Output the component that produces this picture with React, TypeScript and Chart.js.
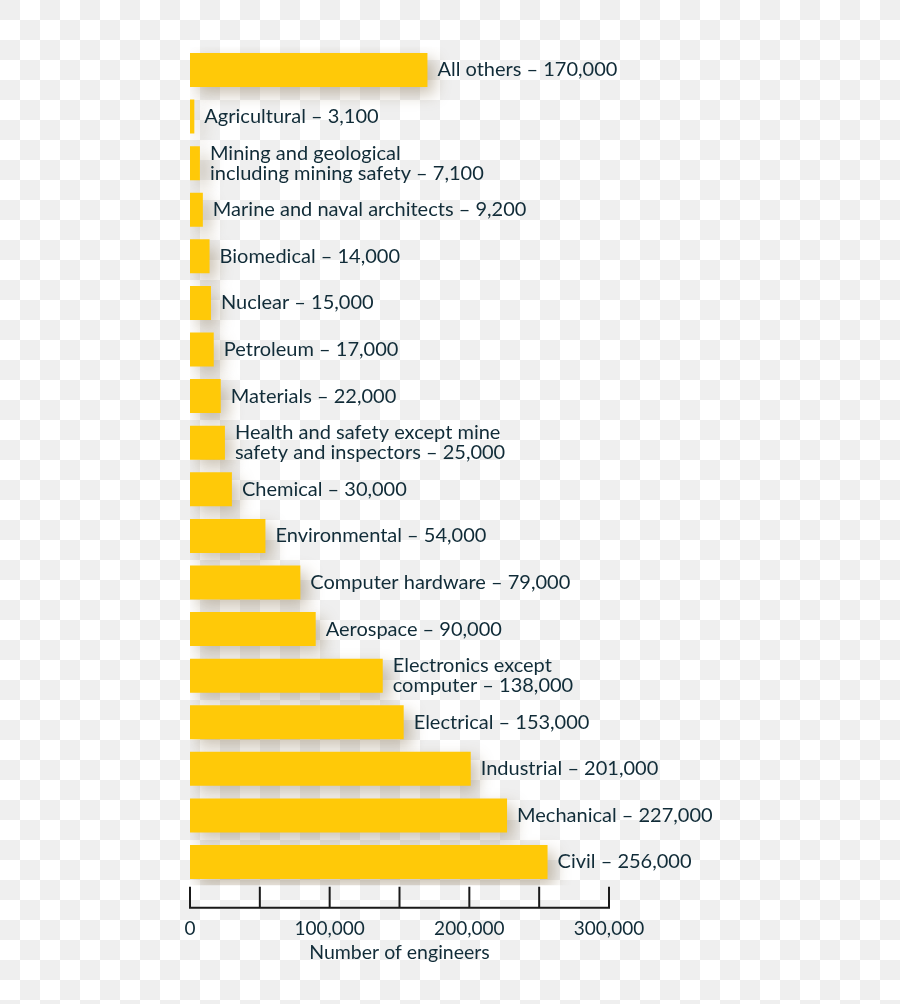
import React, { useEffect, useRef } from "react";
import { Chart, registerables } from "chart.js";

Chart.register(...registerables);

const categories: string[][] = [
  ["All others"],
  ["Agricultural"],
  ["Mining and geological", "including mining safety"],
  ["Marine and naval architects"],
  ["Biomedical"],
  ["Nuclear"],
  ["Petroleum"],
  ["Materials"],
  ["Health and safety except mine", "safety and inspectors"],
  ["Chemical"],
  ["Environmental"],
  ["Computer hardware"],
  ["Aerospace"],
  ["Electronics except", "computer"],
  ["Electrical"],
  ["Industrial"],
  ["Mechanical"],
  ["Civil"],
];

const engineers: number[] = [
  170000, 3100, 7100, 9200, 14000, 15000, 17000, 22000, 25000, 30000, 54000,
  79000, 90000, 138000, 153000, 201000, 227000, 256000,
];

const axisTickMarks: number[] = [0, 50000, 100000, 150000, 200000, 250000, 300000];
const axisLabelValues: number[] = [0, 100000, 200000, 300000];
const axisTitle = "Number of engineers";

const FONT = "Lato, 'Open Sans', sans-serif";
const TEXT = "#112c38";
const BAR = "#ffc908";

const fmt = (v: number) => v.toLocaleString("en-US");

const shadowPlugin = {
  id: "barShadow",
  beforeDatasetsDraw(chart: any) {
    const ctx = chart.ctx;
    ctx.save();
    ctx.shadowColor = "rgba(110, 85, 45, 0.36)";
    ctx.shadowBlur = 16;
    ctx.shadowOffsetX = 7;
    ctx.shadowOffsetY = 7;
  },
  afterDatasetsDraw(chart: any) {
    chart.ctx.restore();
  },
};

const labelPlugin = {
  id: "barLabels",
  afterDatasetsDraw(chart: any) {
    const ctx = chart.ctx;
    const meta = chart.getDatasetMeta(0);
    ctx.save();
    ctx.fillStyle = TEXT;
    ctx.font = `20px ${FONT}`;
    ctx.textBaseline = "middle";
    ctx.textAlign = "left";
    meta.data.forEach((el: any, i: number) => {
      const lines = categories[i].slice();
      lines[lines.length - 1] = `${lines[lines.length - 1]} – ${fmt(engineers[i])}`;
      const lh = 20;
      const y0 = el.y - ((lines.length - 1) * lh) / 2;
      lines.forEach((ln, k) => ctx.fillText(ln, el.x + 10, y0 + k * lh));
    });
    ctx.restore();
  },
};

const axisPlugin = {
  id: "axisMarks",
  afterDraw(chart: any) {
    const ctx = chart.ctx;
    const xs = chart.scales.x;
    const axisY = chart.chartArea.bottom + 22.5;
    const x0 = xs.getPixelForValue(axisTickMarks[0]);
    const x1 = xs.getPixelForValue(axisTickMarks[axisTickMarks.length - 1]);
    ctx.save();
    ctx.strokeStyle = "#1a1a1a";
    ctx.lineWidth = 2;
    ctx.lineCap = "butt";
    ctx.beginPath();
    ctx.moveTo(x0 - 1, axisY);
    ctx.lineTo(x1 + 1, axisY);
    axisTickMarks.forEach((v) => {
      const px = xs.getPixelForValue(v);
      ctx.moveTo(px, axisY);
      ctx.lineTo(px, axisY - 21);
    });
    ctx.stroke();
    ctx.restore();
  },
};

export default function App() {
  const ref = useRef<HTMLCanvasElement | null>(null);

  useEffect(() => {
    if (!ref.current) return;
    const chart = new Chart(ref.current, {
      type: "bar",
      data: {
        labels: categories.map((c) => c.join(" ")),
        datasets: [
          {
            data: engineers,
            backgroundColor: BAR,
            borderWidth: 0,
            barPercentage: 0.73,
            categoryPercentage: 1,
          },
        ],
      },
      options: {
        indexAxis: "y",
        responsive: false,
        animation: false,
        events: [],
        layout: { padding: { left: 190, right: 291, top: 46.7, bottom: 0 } },
        plugins: {
          legend: { display: false },
          tooltip: { enabled: false },
        },
        scales: {
          y: { display: false },
          x: {
            min: 0,
            max: 300000,
            afterFit: (scale: any) => {
              scale.height = 1004 - 885.3;
            },
            afterBuildTicks: (scale: any) => {
              scale.ticks = axisLabelValues.map((v) => ({ value: v }));
            },
            grid: { display: false, drawTicks: false },
            border: { display: false },
            ticks: {
              padding: 32,
              color: TEXT,
              font: { family: FONT, size: 19 },
              maxRotation: 0,
              autoSkip: false,
              callback: (v: any) => fmt(Number(v)),
            },
            title: {
              display: true,
              text: axisTitle,
              color: TEXT,
              font: { family: FONT, size: 19.5 },
              padding: { top: 0, bottom: 40 },
            },
          },
        },
      },
      plugins: [shadowPlugin, labelPlugin, axisPlugin],
    });
    return () => chart.destroy();
  }, []);

  const checker = {
    position: "fixed" as const,
    left: 0,
    top: 0,
    width: 900,
    height: 1004,
    backgroundColor: "#ffffff",
    backgroundImage:
      "linear-gradient(45deg, #efefef 25%, transparent 25%, transparent 75%, #efefef 75%), linear-gradient(45deg, #efefef 25%, transparent 25%, transparent 75%, #efefef 75%)",
    backgroundSize: "40px 40px",
    backgroundPosition: "20px 0, 0 20px",
  };

  return (
    <div style={checker}>
      <canvas ref={ref} width={900} height={1004} style={{ display: "block" }} />
    </div>
  );
}
